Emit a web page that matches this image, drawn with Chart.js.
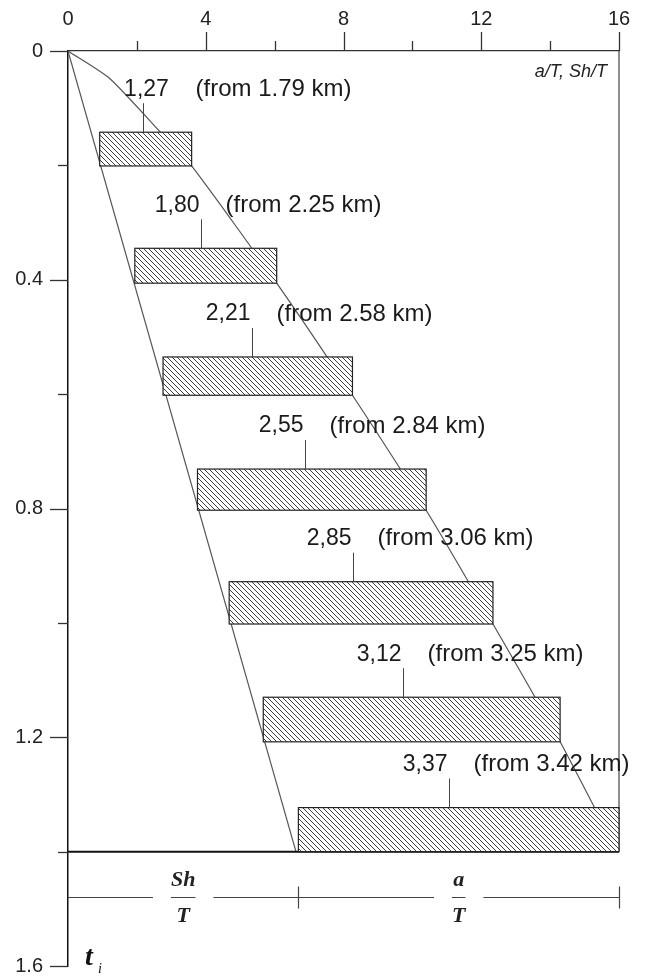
<!DOCTYPE html>
<html>
<head>
<meta charset="utf-8">
<script src="https://cdn.jsdelivr.net/npm/chart.js@4.4.0/dist/chart.umd.min.js"></script>
<style>
  html, body { margin: 0; padding: 0; background: #fff; }
  #wrap { width: 645px; height: 978px; }
</style>
</head>
<body>
<div id="wrap"><canvas id="chart"></canvas></div>
<script>
let barStart = [0.92, 1.94, 2.76, 3.76, 4.68, 5.67, 6.69];
let barEnd = [3.59, 6.06, 8.26, 10.40, 12.34, 14.29, 16.0];
let barTop = [0.142, 0.345, 0.535, 0.731, 0.928, 1.130, 1.323];
let barBottom = [0.201, 0.406, 0.602, 0.803, 1.002, 1.208, 1.400];
let barValues = ['1,27', '1,80', '2,21', '2,55', '2,85', '3,12', '3,37'];
let fromDepth = ['1.79', '2.25', '2.58', '2.84', '3.06', '3.25', '3.42'];

let leftLineX = [0, 6.62];
let leftLineY = [0, 1.40];
let rightLineX = [0, 1.21, 2.67, 3.59, 6.06, 8.26, 10.40, 12.34, 14.29, 15.95];
let rightLineY = [0, 0.048, 0.141, 0.201, 0.406, 0.602, 0.803, 1.002, 1.208, 1.40];

let xTickValues = [0, 2, 4, 6, 8, 10, 12, 14, 16];
let xTickLabels = [0, 4, 8, 12, 16];
let yTickValues = [0, 0.2, 0.4, 0.6, 0.8, 1.0, 1.2, 1.4, 1.6];
let yTickLabels = ['0', '0.4', '0.8', '1.2', '1.6'];

// a/T and Sh/T spans under the plot
let spanMarks = [0, 6.69, 16];
let spanNames = [['Sh', 'T'], ['a', 'T']];

let ctx = document.getElementById('chart');

function hatch() {
  let c = document.createElement('canvas');
  c.width = 5; c.height = 5;
  let g = c.getContext('2d');
  g.fillStyle = '#fff';
  g.fillRect(0, 0, 5, 5);
  g.strokeStyle = '#2a2a2a';
  g.lineWidth = 0.9;
  g.beginPath();
  g.moveTo(-1, -1); g.lineTo(6, 6);
  g.moveTo(-1, 4); g.lineTo(1, 6);
  g.moveTo(4, -1); g.lineTo(6, 1);
  g.stroke();
  return ctx.getContext('2d').createPattern(c, 'repeat');
}

function fmtY(v) {
  let r = Math.round(v * 10) / 10;
  return r === 0 ? '0' : r.toFixed(1);
}

let sketch = {
  id: 'sketch',
  afterDatasetsDraw(chart) {
    let c = chart.ctx;
    let xs = chart.scales.x, ys = chart.scales.y;
    let area = chart.chartArea;
    c.save();

    // ticks
    c.strokeStyle = '#333';
    c.lineWidth = 1.3;
    xTickValues.forEach(v => {
      if (v === 0) return;
      let px = Math.round(xs.getPixelForValue(v)) + 0.5;
      let len = xTickLabels.includes(v) ? 19 : 10;
      c.beginPath(); c.moveTo(px, area.top); c.lineTo(px, area.top - len); c.stroke();
    });
    yTickValues.forEach(v => {
      let py = Math.round(ys.getPixelForValue(v)) + 0.5;
      let len = yTickLabels.includes(fmtY(v)) ? 18 : 10;
      c.beginPath(); c.moveTo(area.left, py); c.lineTo(area.left - len, py); c.stroke();
    });

    // right frame and bottom line
    let xR = xs.getPixelForValue(16), xL = xs.getPixelForValue(0);
    let y0 = ys.getPixelForValue(0), yB = ys.getPixelForValue(1.4);
    c.strokeStyle = '#444';
    c.lineWidth = 1.2;
    c.beginPath(); c.moveTo(xR, y0); c.lineTo(xR, yB); c.stroke();
    c.strokeStyle = '#111';
    c.lineWidth = 2;
    c.beginPath(); c.moveTo(xL, yB); c.lineTo(xR, yB); c.stroke();

    // bars
    let pat = hatch();
    for (let i = 0; i < barStart.length; i++) {
      let x0 = xs.getPixelForValue(barStart[i]);
      let x1 = xs.getPixelForValue(barEnd[i]);
      let t = ys.getPixelForValue(barTop[i]);
      let b = ys.getPixelForValue(barBottom[i]);
      c.fillStyle = pat;
      c.fillRect(x0, t, x1 - x0, b - t);
      c.strokeStyle = '#222';
      c.lineWidth = 1.2;
      c.strokeRect(x0, t, x1 - x0, b - t);

      // leader and labels
      let lx = Math.round(x0 + 0.47 * (x1 - x0)) + 0.5;
      c.strokeStyle = '#444';
      c.lineWidth = 1;
      c.beginPath(); c.moveTo(lx, t); c.lineTo(lx, t - 29); c.stroke();
      c.fillStyle = '#1a1a1a';
      c.textBaseline = 'middle';
      let ly = t - 43;
      let valFont = '23px "Liberation Sans", Arial, sans-serif';
      let fromFont = '24px "Liberation Sans", Arial, sans-serif';
      c.font = valFont;
      if (i === 0) {
        c.textAlign = 'center';
        c.fillText(barValues[i], lx + 3, ly);
        c.textAlign = 'left';
        c.font = fromFont;
        c.fillText('(from ' + fromDepth[i] + ' km)', lx + 52, ly);
      } else {
        c.textAlign = 'right';
        c.fillText(barValues[i], lx - 2, ly);
        c.textAlign = 'left';
        c.font = fromFont;
        c.fillText('(from ' + fromDepth[i] + ' km)', lx + 24, ly);
      }
    }

    // axis name at top right
    c.font = 'italic 18px "Liberation Sans", Arial, sans-serif';
    c.textAlign = 'right';
    c.textBaseline = 'middle';
    c.fillStyle = '#222';
    c.fillText('a/T, Sh/T', area.right - 12, area.top + 21);

    // span line below the plot
    let sy = Math.round(ys.getPixelForValue(1.48)) + 0.5;
    c.font = 'bold italic 22px "Liberation Serif", "Times New Roman", serif';
    c.strokeStyle = '#444';
    c.lineWidth = 1.2;
    for (let k = 0; k < spanMarks.length - 1; k++) {
      let a = xs.getPixelForValue(spanMarks[k]);
      let b = xs.getPixelForValue(spanMarks[k + 1]);
      let m = (a + b) / 2;
      let w = Math.max(c.measureText(spanNames[k][0]).width, c.measureText(spanNames[k][1]).width);
      let gap = w / 2 + 18;
      c.beginPath();
      c.moveTo(a, sy); c.lineTo(m - gap, sy);
      c.moveTo(m + gap, sy); c.lineTo(b, sy);
      c.moveTo(m - w / 2, sy); c.lineTo(m + w / 2, sy);
      c.stroke();
      c.fillStyle = '#222';
      c.textAlign = 'center';
      c.fillText(spanNames[k][0], m, sy - 17);
      c.fillText(spanNames[k][1], m, sy + 19);
    }
    [1, 2].forEach(k => {
      let px = Math.round(xs.getPixelForValue(spanMarks[k])) + 0.5;
      c.beginPath(); c.moveTo(px, sy - 11); c.lineTo(px, sy + 11); c.stroke();
    });

    // t_i
    c.fillStyle = '#111';
    c.textAlign = 'left';
    c.font = 'bold italic 28px "Liberation Serif", "Times New Roman", serif';
    c.fillText('t', area.left + 17, area.bottom - 8);
    c.font = 'italic 14px "Liberation Serif", "Times New Roman", serif';
    c.fillText('i', area.left + 30, area.bottom + 3);
    c.restore();
  }
};

let chart = new Chart(ctx, {
  type: 'scatter',
  data: {
    datasets: [{
      data: leftLineX.map((x, i) => ({ x: x, y: leftLineY[i] })),
      showLine: true,
      borderColor: '#555',
      borderWidth: 1.2,
      pointRadius: 0,
      tension: 0
    }, {
      data: rightLineX.map((x, i) => ({ x: x, y: rightLineY[i] })),
      showLine: true,
      borderColor: '#555',
      borderWidth: 1.2,
      pointRadius: 0,
      tension: 0.2
    }]
  },
  options: {
    responsive: true,
    maintainAspectRatio: false,
    animation: false,
    layout: { padding: { right: 26, bottom: 12 } },
    plugins: {
      legend: { display: false },
      tooltip: { enabled: false }
    },
    scales: {
      x: {
        type: 'linear',
        position: 'top',
        min: 0,
        max: 16,
        afterBuildTicks: s => { s.ticks = xTickValues.map(v => ({ value: v })); },
        afterFit: s => { s.height = 51; s.paddingLeft = 0; s.paddingRight = 0; },
        ticks: {
          callback: v => xTickLabels.includes(v) ? String(v) : '',
          font: { size: 20, family: '"Liberation Sans", Arial, sans-serif' },
          color: '#222',
          padding: 20,
          maxRotation: 0,
          autoSkip: false
        },
        grid: { drawOnChartArea: false, drawTicks: false },
        border: { color: '#333', width: 1.3 }
      },
      y: {
        type: 'linear',
        reverse: true,
        min: 0,
        max: 1.6,
        afterBuildTicks: s => { s.ticks = yTickValues.map(v => ({ value: v })); },
        afterFit: s => { s.width = 68; s.paddingTop = 0; s.paddingBottom = 0; },
        ticks: {
          callback: v => yTickLabels.includes(fmtY(v)) ? fmtY(v) : '',
          font: { size: 20, family: '"Liberation Sans", Arial, sans-serif' },
          color: '#222',
          padding: 25,
          autoSkip: false
        },
        grid: { drawOnChartArea: false, drawTicks: false },
        border: { color: '#111', width: 1.5 }
      }
    }
  },
  plugins: [sketch]
});
</script>
</body>
</html>
